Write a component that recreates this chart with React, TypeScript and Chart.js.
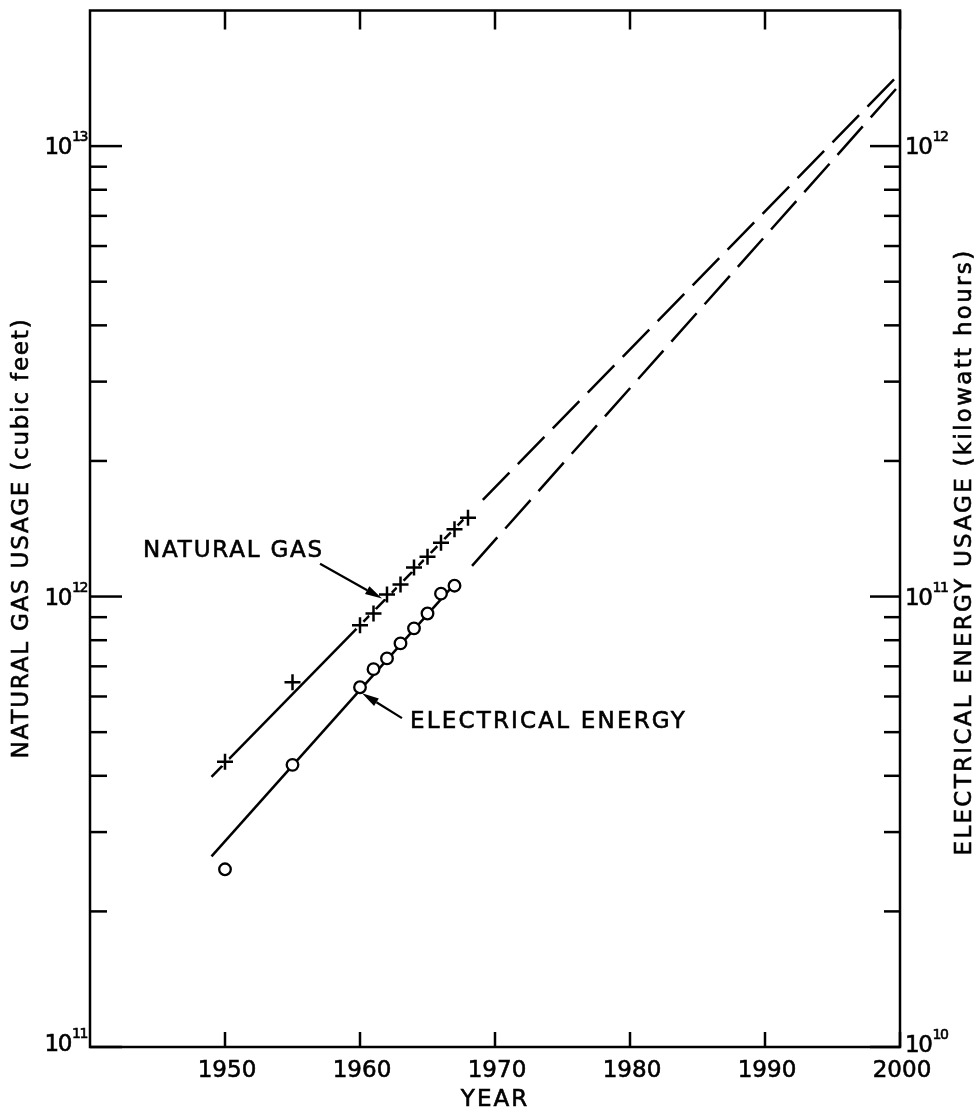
import React, { useEffect, useRef } from "react";
import { Chart, registerables } from "chart.js";

Chart.register(...registerables);

const FONT = "'DejaVu Sans', sans-serif";

// Measured annual usage
const gasYears = [1950, 1955, 1960, 1961, 1962, 1963, 1964, 1965, 1966, 1967, 1968];
const gasUsage = [4.3e11, 6.45e11, 8.63e11, 9.17e11, 1.01e12, 1.063e12, 1.16e12, 1.226e12, 1.316e12, 1.41e12, 1.496e12];
const elecYears = [1950, 1955, 1960, 1961, 1962, 1963, 1964, 1965, 1966, 1967];
const elecUsage = [2.48e10, 4.23e10, 6.29e10, 6.9e10, 7.29e10, 7.87e10, 8.5e10, 9.17e10, 1.015e11, 1.057e11];

// Fitted growth lines (solid) and their projections (dashed)
const gasTrendYears = [1949, 1968];
const gasTrendValues = [3.98e11, 1.518e12];
const gasProjYears = [1969.1, 1999.6];
const gasProjValues = [1.64e12, 1.41e13];
const elecTrendYears = [1949, 1967];
const elecTrendValues = [2.65e10, 1.066e11];
const elecProjYears = [1968.3, 2000];
const elecProjValues = [1.17e11, 1.37e12];

// Axis ticks
const yearTicks = [1950, 1960, 1970, 1980, 1990, 2000];
const gasDecades = [11, 12, 13];
const elecDecades = [10, 11, 12];
const minorSteps = [2, 3, 4, 5, 6, 7, 8, 9];

// Callout anchors (data units)
const gasCallout = { text: "NATURAL GAS", year: 1943.93, value: 1.264e12, from: [1957.04, 1.183e12], to: [1961.63, 0.99e12] };
const elecCallout = { text: "ELECTRICAL ENERGY", year: 1963.7, value: 5.26e10, from: [1963.11, 5.37e10], to: [1960.15, 6.1e10] };

const pts = (xs: number[], ys: number[]) => xs.map((x, i) => ({ x, y: ys[i] }));

// Lettering slightly heavier than the plain face
function ink(ctx: CanvasRenderingContext2D, text: string, x: number, y: number) {
  ctx.fillText(text, x, y);
  ctx.save();
  ctx.lineWidth = 0.6;
  ctx.strokeText(text, x, y);
  ctx.restore();
}

// "10" with a raised exponent
function drawPow(ctx: CanvasRenderingContext2D, x: number, y: number, exp: number, align: "left" | "right") {
  ctx.save();
  (ctx as any).letterSpacing = "-1.4px";
  ctx.font = `23px ${FONT}`;
  const base = "10";
  const w10 = ctx.measureText(base).width;
  ctx.font = `14px ${FONT}`;
  const sup = String(exp);
  const wSup = ctx.measureText(sup).width;
  const start = align === "right" ? x - (w10 + wSup) : x;
  ctx.textAlign = "left";
  ctx.textBaseline = "alphabetic";
  ctx.font = `23px ${FONT}`;
  ink(ctx, base, start, y + 8.4);
  ctx.font = `14px ${FONT}`;
  ink(ctx, sup, start + w10 + 1, y - 5);
  ctx.restore();
}

function drawArrow(ctx: CanvasRenderingContext2D, x0: number, y0: number, x1: number, y1: number) {
  const ang = Math.atan2(y1 - y0, x1 - x0);
  const len = 17;
  const hw = 4.5;
  const bx = x1 - len * Math.cos(ang);
  const by = y1 - len * Math.sin(ang);
  ctx.beginPath();
  ctx.moveTo(x0, y0);
  ctx.lineTo(bx, by);
  ctx.stroke();
  ctx.beginPath();
  ctx.moveTo(x1, y1);
  ctx.lineTo(bx - hw * Math.sin(ang), by + hw * Math.cos(ang));
  ctx.lineTo(bx + hw * Math.sin(ang), by - hw * Math.cos(ang));
  ctx.closePath();
  ctx.fill();
}

const framePlugin = {
  id: "frame",
  afterDraw(chart: any) {
    const { ctx, chartArea: a, scales } = chart;
    const xs = scales.x;
    const ys = scales.y;
    const ys2 = scales.y2;
    ctx.save();
    ctx.strokeStyle = "#000";
    ctx.fillStyle = "#000";
    ctx.lineWidth = 2.5;
    ctx.lineCap = "butt";
    ctx.strokeRect(a.left, a.top, a.right - a.left, a.bottom - a.top);

    const seg = (x0: number, y0: number, x1: number, y1: number) => {
      ctx.beginPath();
      ctx.moveTo(x0, y0);
      ctx.lineTo(x1, y1);
      ctx.stroke();
    };

    // inward year ticks, bottom and top, with labels under the axis
    yearTicks.forEach((yr) => {
      const px = xs.getPixelForValue(yr);
      seg(px, a.bottom, px, a.bottom - 15);
      seg(px, a.top, px, a.top + 19);
    });
    ctx.font = `23px ${FONT}`;
    ctx.textAlign = "center";
    ctx.textBaseline = "alphabetic";
    yearTicks.forEach((yr) => {
      const px = xs.getPixelForValue(yr);
      ink(ctx, String(yr), px + 2, a.bottom + 30);
    });
    ctx.lineWidth = 2.5;

    // left log ticks and labels
    gasDecades.forEach((e, i) => {
      const py = ys.getPixelForValue(Math.pow(10, e));
      seg(a.left, py, a.left + 32, py);
      if (i < gasDecades.length - 1) {
        minorSteps.forEach((m) => {
          const p = ys.getPixelForValue(m * Math.pow(10, e));
          seg(a.left, p, a.left + 17, p);
        });
      }
      drawPow(ctx, a.left - 4, py - (i === 0 ? 4 : 0), e, "right");
      ctx.lineWidth = 2.5;
    });

    // right log ticks and labels
    elecDecades.forEach((e, i) => {
      const py = ys2.getPixelForValue(Math.pow(10, e));
      seg(a.right, py, a.right - 30, py);
      if (i < elecDecades.length - 1) {
        minorSteps.forEach((m) => {
          const p = ys2.getPixelForValue(m * Math.pow(10, e));
          seg(a.right, p, a.right - 16, p);
        });
      }
      drawPow(ctx, a.right + 5, py - (i === 0 ? 3 : 0), e, "left");
      ctx.lineWidth = 2.5;
    });

    // axis titles
    ctx.font = `23px ${FONT}`;
    (ctx as any).letterSpacing = "1.8px";
    ctx.textAlign = "center";
    ctx.textBaseline = "middle";
    ctx.save();
    ctx.translate(22, 538);
    ctx.rotate(-Math.PI / 2);
    ink(ctx, "NATURAL GAS USAGE (cubic feet)", 0, 0);
    ctx.restore();
    ctx.save();
    (ctx as any).letterSpacing = "2.3px";
    ctx.translate(965, 552);
    ctx.rotate(-Math.PI / 2);
    ink(ctx, "ELECTRICAL ENERGY USAGE (kilowatt hours)", 0, 0);
    ctx.restore();
    (ctx as any).letterSpacing = "2px";
    ink(ctx, "YEAR", (a.left + a.right) / 2, 1100);

    // callouts
    ctx.textAlign = "left";
    (ctx as any).letterSpacing = "1.8px";
    ink(ctx, gasCallout.text, xs.getPixelForValue(gasCallout.year), ys.getPixelForValue(gasCallout.value));
    (ctx as any).letterSpacing = "2.2px";
    ink(ctx, elecCallout.text, xs.getPixelForValue(elecCallout.year), ys2.getPixelForValue(elecCallout.value));
    (ctx as any).letterSpacing = "0px";
    ctx.lineWidth = 2.2;
    drawArrow(
      ctx,
      xs.getPixelForValue(gasCallout.from[0]), ys.getPixelForValue(gasCallout.from[1]),
      xs.getPixelForValue(gasCallout.to[0]), ys.getPixelForValue(gasCallout.to[1])
    );
    drawArrow(
      ctx,
      xs.getPixelForValue(elecCallout.from[0]), ys2.getPixelForValue(elecCallout.from[1]),
      xs.getPixelForValue(elecCallout.to[0]), ys2.getPixelForValue(elecCallout.to[1])
    );
    ctx.restore();
  },
};

export default function App() {
  const ref = useRef<HTMLCanvasElement | null>(null);

  useEffect(() => {
    if (!ref.current) return;
    const lineDefaults = { showLine: true, pointRadius: 0, borderColor: "#000", borderWidth: 2.5, tension: 0, fill: false, order: 2 };
    const chart = new Chart(ref.current, {
      type: "scatter",
      data: {
        datasets: [
          {
            label: "Natural gas",
            data: pts(gasYears, gasUsage),
            yAxisID: "y",
            pointStyle: "cross",
            pointRadius: 8,
            pointBorderWidth: 2.5,
            borderColor: "#000",
            order: 0,
          },
          {
            label: "Natural gas halo",
            data: pts(gasYears, gasUsage),
            yAxisID: "y",
            pointStyle: "circle",
            pointRadius: 5,
            pointBorderWidth: 0,
            backgroundColor: "#fff",
            borderColor: "#fff",
            order: 1,
          },
          {
            label: "Electrical energy",
            data: pts(elecYears, elecUsage),
            yAxisID: "y2",
            pointStyle: "circle",
            pointRadius: 5.8,
            pointBorderWidth: 2.3,
            borderColor: "#000",
            backgroundColor: "#fff",
            order: 0,
          },
          { ...lineDefaults, label: "Gas trend", data: pts(gasTrendYears, gasTrendValues), yAxisID: "y" },
          { ...lineDefaults, label: "Gas projection", data: pts(gasProjYears, gasProjValues), yAxisID: "y", borderDash: [38, 12] },
          { ...lineDefaults, label: "Electric trend", data: pts(elecTrendYears, elecTrendValues), yAxisID: "y2" },
          { ...lineDefaults, label: "Electric projection", data: pts(elecProjYears, elecProjValues), yAxisID: "y2", borderDash: [38, 12] },
        ] as any,
      },
      options: {
        responsive: false,
        animation: false,
        layout: { padding: { top: 7, left: 0, right: 0, bottom: 0 } },
        plugins: { legend: { display: false }, tooltip: { enabled: false } },
        scales: {
          x: {
            type: "linear",
            position: "bottom",
            min: 1940,
            max: 2000,
            ticks: { display: false },
            grid: { display: false, drawTicks: false },
            border: { display: false },
            afterFit: (s: any) => {
              s.height = 66;
            },
          },
          y: {
            type: "logarithmic",
            position: "left",
            min: 1e11,
            max: 2e13,
            ticks: { display: false },
            grid: { display: false, drawTicks: false },
            border: { display: false },
            afterFit: (s: any) => {
              s.width = 90;
            },
          },
          y2: {
            type: "logarithmic",
            position: "right",
            min: 1e10,
            max: 2e12,
            ticks: { display: false },
            grid: { display: false, drawTicks: false },
            border: { display: false },
            afterFit: (s: any) => {
              s.width = 79;
            },
          },
        },
      } as any,
      plugins: [framePlugin],
    });
    return () => chart.destroy();
  }, []);

  return (
    <div style={{ position: "absolute", left: 0, top: 0, width: 979, height: 1113, background: "#fff" }}>
      <canvas ref={ref} width={979} height={1113} style={{ display: "block" }} />
    </div>
  );
}
